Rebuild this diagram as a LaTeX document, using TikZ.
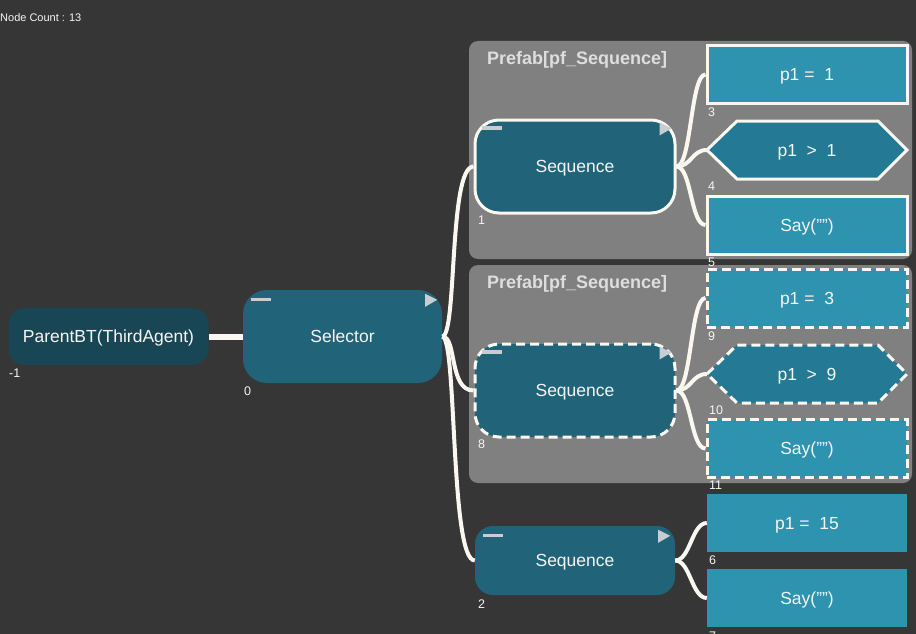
\documentclass[tikz,border=0pt]{standalone}
\usepackage{fontspec}
\setmainfont{Liberation Sans}
\usetikzlibrary{calc}
\definecolor{bg}{RGB}{54,54,54}
\definecolor{seqfill}{RGB}{33,99,120}
\definecolor{parentfill}{RGB}{25,70,84}
\definecolor{leaffill}{RGB}{46,147,175}
\definecolor{condfill}{RGB}{36,122,148}
\definecolor{prefab}{RGB}{128,128,128}
\definecolor{titlecol}{RGB}{222,222,222}
\definecolor{linecol}{RGB}{250,246,240}
\definecolor{iconcol}{RGB}{200,205,210}
\definecolor{txt}{RGB}{245,245,245}
\begin{document}
\begin{tikzpicture}[x=1pt,y=-1pt,
  base/.style={inner sep=0pt, text=txt, text height=12.5pt, text depth=0pt, font=\fontsize{17.5}{20}\selectfont},
  ctrl/.style={base, rounded corners=24pt, fill=seqfill, minimum width=200pt, minimum height=93pt},
  leaf/.style={base, fill=leaffill, minimum width=200pt, minimum height=58pt},
  condbox/.style={base, minimum width=200pt, minimum height=58pt},
  solidb/.style={draw=linecol, line width=3pt},
  dashb/.style={draw=linecol, line width=3pt, dash pattern=on 9pt off 5pt},
  idx/.style={inner sep=0pt, anchor=west, text=txt, text height=9pt, text depth=0pt, font=\fontsize{12.5}{14}\selectfont},
  link/.style={draw=linecol, line width=4pt},
  groupbox/.style={fill=prefab, rounded corners=9pt},
  grouptitle/.style={inner sep=0pt, anchor=west, text=titlecol, text height=13pt, text depth=0pt, font=\fontsize{18}{20}\selectfont\bfseries},
  minusicon/.style={draw=iconcol, line width=3.5pt},
  playicon/.style={fill=iconcol}
]
\fill[bg] (0,0) rectangle (916,634);
\useasboundingbox (0,0) rectangle (916,634);
\clip (0,0) rectangle (916,634);

\node[idx, text height=8pt, font=\fontsize{11}{13}\selectfont] (count) at (0,18) {Node Count : 13};

% prefab groups
\path[groupbox] (469,41) rectangle (912,259);
\path[groupbox] (469,265) rectangle (912,483);
\node[grouptitle] (g1) at (487,58) {Prefab[pf\_Sequence]};
\node[grouptitle] (g2) at (487,282) {Prefab[pf\_Sequence]};

% hexagon backgrounds
\path[fill=condfill, solidb] (707,150) -- (737,121) -- (878,121) -- (907,150) -- (878,179) -- (737,179) -- cycle;
\path[fill=condfill, dashb] (707,374) -- (737,345) -- (878,345) -- (907,374) -- (878,403) -- (737,403) -- cycle;

% nodes
\node[base, rounded corners=16pt, fill=parentfill, minimum width=200pt, minimum height=57pt] (parent) at (108.5,336.5) {ParentBT(ThirdAgent)};
\node[ctrl, minimum width=199pt] (sel) at (342.5,336.5) {Selector};
\node[ctrl, solidb] (seq1) at (575,166.5) {Sequence};
\node[ctrl, dashb] (seq8) at (575,390.5) {Sequence};
\node[ctrl, rounded corners=18pt, minimum height=69pt] (seq2) at (575,560.5) {Sequence};

\node[leaf, solidb] (n3) at (807,74.5) {p1 =\ \ 1};
\node[condbox] (n4) at (807,150) {p1\ \ >\ \ 1};
\node[leaf, solidb] (n5) at (807,225) {Say("")};
\node[leaf, dashb] (n9) at (807,298) {p1 =\ \ 3};
\node[condbox] (n10) at (807,374) {p1\ \ >\ \ 9};
\node[leaf, dashb] (n11) at (807,448.5) {Say("")};
\node[leaf] (n6) at (807,523) {p1 =\ \ 15};
\node[leaf] (n7) at (807,598) {Say("")};

% icons
\foreach \n in {sel,seq1,seq8,seq2}{
  \draw[minusicon] ([shift={(8,9.5)}]\n.north west) -- ([shift={(28,9.5)}]\n.north west);
  \fill[playicon] ([shift={(-17,4)}]\n.north east) -- ([shift={(-17,17)}]\n.north east) -- ([shift={(-5,10)}]\n.north east) -- cycle;
}

% connectors
\draw[link, line width=6pt] (parent.east) -- (sel.west);
\draw[link] (sel.east) .. controls +(15,0) and +(-25,0) .. (seq1.west);
\draw[link] (sel.east) .. controls +(15,0) and +(-25,0) .. (seq8.west);
\draw[link] (sel.east) .. controls +(15,0) and +(-25,0) .. (seq2.west);
\draw[link] (seq1.east) .. controls +(15,0) and +(-15,0) .. (n3.west);
\draw[link] (seq1.east) .. controls +(15,0) and +(-15,0) .. (n4.west);
\draw[link] (seq1.east) .. controls +(15,0) and +(-15,0) .. (n5.west);
\draw[link] (seq8.east) .. controls +(15,0) and +(-15,0) .. (n9.west);
\draw[link] (seq8.east) .. controls +(15,0) and +(-15,0) .. (n10.west);
\draw[link] (seq8.east) .. controls +(15,0) and +(-15,0) .. (n11.west);
\draw[link] (seq2.east) .. controls +(15,0) and +(-15,0) .. (n6.west);
\draw[link] (seq2.east) .. controls +(15,0) and +(-15,0) .. (n7.west);

% index labels
\node[idx] (iparent) at (9,373) {-1};
\node[idx] (isel) at (244,391) {0};
\node[idx] (iseq1) at (478,220) {1};
\node[idx] (iseq8) at (478,444) {8};
\node[idx] (iseq2) at (478,604) {2};
\node[idx] (in3) at (708,112) {3};
\node[idx] (in4) at (708,186) {4};
\node[idx] (in5) at (708,262) {5};
\node[idx] (in9) at (708,336) {9};
\node[idx] (in10) at (709,410) {10};
\node[idx] (in11) at (709,485) {11};
\node[idx] (in6) at (709,560) {6};
\node[idx] (in7) at (709,636) {7};
\end{tikzpicture}
\end{document}
